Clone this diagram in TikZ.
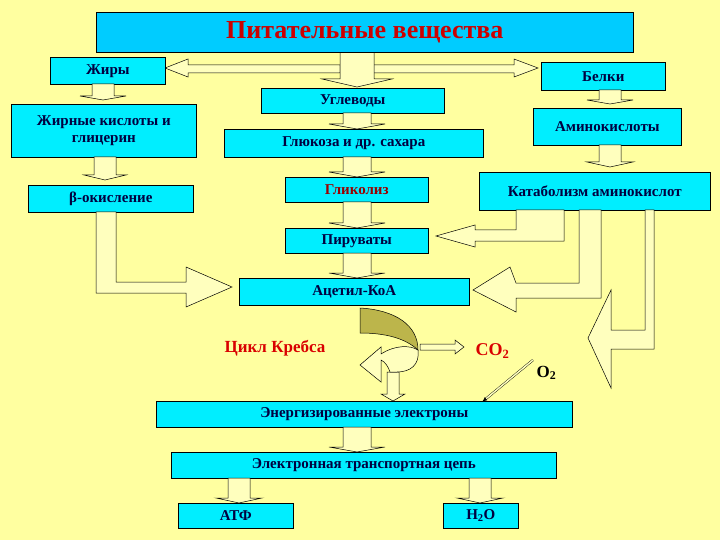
\documentclass[tikz,border=0pt]{standalone}
\usepackage{fontspec}
\setmainfont{Liberation Serif}
\definecolor{bx}{RGB}{0,238,255}
\definecolor{tb}{RGB}{0,204,255}
\definecolor{bg}{RGB}{255,255,160}
\definecolor{ar}{RGB}{255,255,190}
\begin{document}
\begin{tikzpicture}[x=1pt,y=-1pt,
  box/.style={draw=black,fill=bx,line width=0.6pt,anchor=north west,inner sep=1pt,align=center,font=\fontsize{15}{17}\selectfont\bfseries,text=blue!25!black},
  barr/.style={draw=black,fill=ar,line width=0.5pt,line join=miter}]
\newcommand{\bb}[6]{\node[box,minimum width=#4-#2,minimum height=#5-#3] (#1) at (#2,#3) {#6};}
\newcommand{\darr}[6]{\draw[barr] (#1-#4,#2) -- (#1+#4,#2) -- (#1+#4,#3-#6) -- (#1+#5,#3-#6) -- (#1,#3) -- (#1-#5,#3-#6) -- (#1-#4,#3-#6) -- cycle;}
\fill[bg] (0,0) rectangle (720,540);
\useasboundingbox (0,0) rectangle (720,540);
% arrows from title
\draw[barr] (340,65) -- (188,65) -- (188,59) -- (165,68) -- (188,77) -- (188,73) -- (340,73) -- cycle;
\draw[barr] (373,65) -- (514,65) -- (514,59) -- (538,68) -- (514,77) -- (514,73) -- (373,73) -- cycle;
\darr{357}{52}{87}{17}{35}{8}
% boxes
\node[box,fill=tb,minimum width=537,minimum height=40,font=\fontsize{26}{28}\selectfont\bfseries,text=red!80!black] (title) at (96,12) {Питательные вещества};
\bb{fat}{50}{57}{165}{84}{Жиры}
\bb{prot}{541}{62}{665}{90}{Белки}
\bb{carb}{261}{88}{444}{113}{Углеводы}
\bb{fa}{11}{104}{196}{157}{Жирные кислоты и\\глицерин}
\bb{amino}{533}{108}{681}{145}{Аминокислоты}
\bb{gluc}{224}{129}{483}{157}{Глюкоза и др. сахара}
\bb{cat}{479}{172}{710}{210}{Катаболизм аминокислот}
\bb{glyc}{285}{177}{428}{202}{\textcolor{red!60!black}{Гликолиз}}
\bb{beta}{28}{185}{193}{212}{β-окисление}
\bb{pyr}{285}{228}{428}{253}{Пируваты}
\bb{acet}{239}{278}{469}{305}{Ацетил-КоА}
\bb{en}{156}{401}{572}{427}{Энергизированные электроны}
\bb{etc}{171}{452}{556}{478}{Электронная транспортная цепь}
\bb{atp}{178}{503}{293}{528}{АТФ}
\bb{h2o}{443}{503}{518}{528}{H\textsubscript{2}O}
% small down arrows
\darr{103}{84}{100}{11}{23}{4}
\darr{105}{157}{180}{11}{21}{5}
\darr{610}{90}{104}{11}{23}{4}
\darr{610}{145}{167}{11}{23}{5}
\darr{357}{113}{129}{14}{28}{5}
\darr{357}{157}{177}{14}{28}{5}
\darr{357}{202}{228}{14}{28}{5}
\darr{357}{253}{278}{14}{28}{5}
\darr{393}{372}{401}{6}{12}{7}
\darr{357}{427}{452}{14}{28}{5}
\darr{239}{478}{503}{11}{23}{5}
\darr{480}{478}{503}{11}{23}{5}
% big L arrows
\draw[barr] (96,212) -- (96,293) -- (186,293) -- (186,307) -- (232,287) -- (186,267) -- (186,282) -- (116,282) -- (116,212) -- cycle;
\draw[barr] (601,210) -- (601,298) -- (516,298) -- (516,312) -- (473,290) -- (510,267) -- (516,283) -- (579,283) -- (579,210) -- cycle;
\draw[barr] (564,210) -- (564,241) -- (475,241) -- (475,247) -- (436,236) -- (475,225) -- (475,230) -- (516,230) -- (516,210) -- cycle;
\draw[barr] (645,210) -- (645,330) -- (611,330) -- (611,290) -- (588,338) -- (611,388) -- (611,349) -- (654,349) -- (654,210) -- cycle;
% Krebs cycle
\draw[barr] (418,350) .. controls (420,365) and (410,372) .. (397,372) -- (390,372) .. controls (388,366) and (385,362) .. (381,360) -- (381,382) -- (360,365) -- (381,347) -- (381,354) .. controls (395,345) and (410,345) .. (418,350) -- cycle;
\draw[fill=olive!60!white,draw=black,line width=0.5pt] (360,308) .. controls (395,310) and (418,325) .. (418,350) .. controls (405,338) and (385,333) .. (360,333) -- cycle;
\node[font=\fontsize{17}{19}\selectfont\bfseries,text=red!85!black] (krebs) at (275,348) {Цикл Кребса};
\draw[barr] (420,344) -- (455,344) -- (455,340) -- (464,347) -- (455,354) -- (455,350) -- (420,350) -- cycle;
\node[font=\fontsize{18}{20}\selectfont\bfseries,text=red!85!black,anchor=west] (co2) at (472,351) {CO\textsubscript{2}};
\node[font=\fontsize{17}{19}\selectfont\bfseries,anchor=west] (o2) at (533,373) {O\textsubscript{2}};
\coordinate (o2s) at (533,360);
\draw[double=ar,line width=0.4pt,double distance=1.5pt,-latex] (o2s) -- (482,402);
\end{tikzpicture}
\end{document}
